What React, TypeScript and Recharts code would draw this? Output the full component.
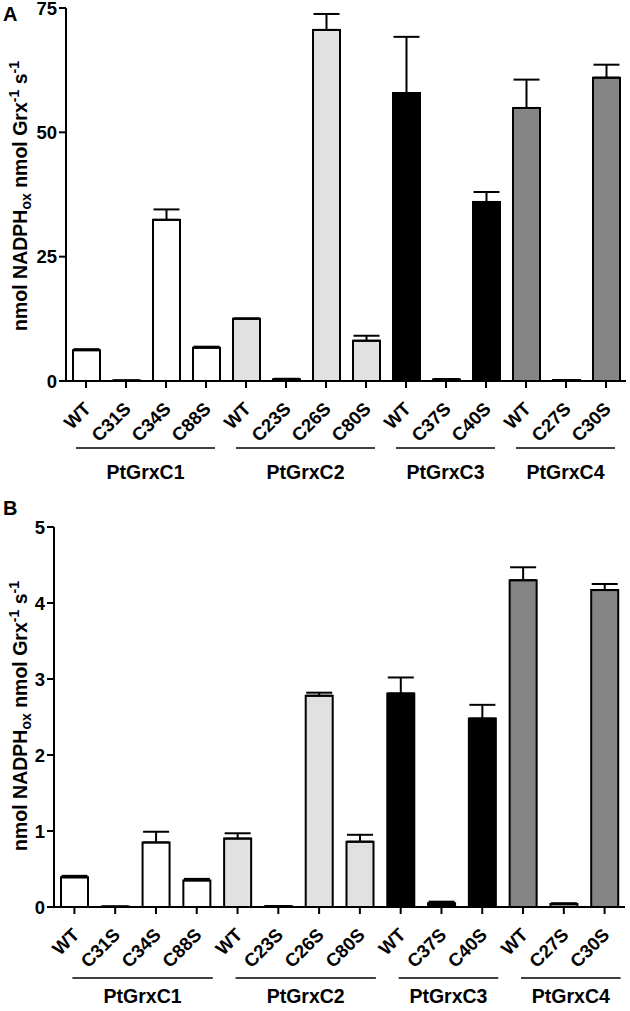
import { Bar, BarChart, Cell, ErrorBar, XAxis, YAxis } from "recharts";

const FONT = "'Liberation Sans', Arial, sans-serif";

const categories = ["WT", "C31S", "C34S", "C88S", "WT", "C23S", "C26S", "C80S", "WT", "C37S", "C40S", "WT", "C27S", "C30S"];
const groupNames = ["PtGrxC1", "PtGrxC2", "PtGrxC3", "PtGrxC4"];
const groupSizes = [4, 4, 3, 3];
const groupFills = ["#ffffff", "#e1e1e1", "#000000", "#858585"];

// panel A: activity in nmol NADPH ox per nmol Grx per s
const rateA = [6.2, 0.1, 32.4, 6.7, 12.5, 0.35, 70.6, 8.1, 57.9, 0.3, 36.0, 54.9, 0.2, 61.0];
const errA = [0.2, 0, 2.1, 0.2, 0.1, 0.1, 3.2, 1.0, 11.3, 0.1, 2.0, 5.7, 0, 2.6];
const ticksA = [0, 25, 50, 75];

// panel B
const rateB = [0.39, 0.005, 0.85, 0.35, 0.9, 0.01, 2.78, 0.86, 2.81, 0.05, 2.48, 4.3, 0.04, 4.17];
const errB = [0.02, 0, 0.14, 0.02, 0.07, 0, 0.04, 0.09, 0.21, 0.02, 0.18, 0.17, 0.01, 0.08];
const ticksB = [0, 1, 2, 3, 4, 5];

const groupIndex: number[] = [];
groupSizes.forEach((n, g) => {
  for (let i = 0; i < n; i++) groupIndex.push(g);
});
const groupStart = groupSizes.map((_, g) => groupSizes.slice(0, g).reduce((a, b) => a + b, 0));

function buildRows(values: number[], errs: number[]) {
  return categories.map((name, i) => ({
    id: `${groupNames[groupIndex[i]]}-${name}`,
    name,
    group: groupIndex[i],
    value: values[i],
    err: errs[i]
  }));
}

type PanelProps = {
  letter: string;
  letterY: number;
  titleY: number;
  superGap: string;
  height: number;
  top: number;
  right: number;
  xHeight: number;
  yWidth: number;
  domain: [number, number];
  ticks: number[];
  values: number[];
  errs: number[];
  lineDy: number;
  labelDy: number;
  lineStart: number;
  lineEnd: number;
};

function Panel(p: PanelProps) {
  const data = buildRows(p.values, p.errs);
  const width = 630;
  const step = (width - p.right - p.yWidth) / categories.length;

  const renderTick = (props: any) => {
    const { x, y, index } = props;
    const g = groupIndex[index];
    const first = groupStart[g] === index;
    const lx = x + 6;
    const ly = y + 20;
    const x1 = x + p.lineStart;
    const x2 = x + (groupSizes[g] - 1) * step + p.lineEnd;
    return (
      <g>
        <text
          x={lx}
          y={ly}
          textAnchor="end"
          transform={`rotate(-45, ${lx}, ${ly})`}
          fontFamily={FONT}
          fontWeight="bold"
          fontSize={18.5}
          fill="#000"
        >
          {categories[index]}
        </text>
        {first && (
          <g>
            <line x1={x1} x2={x2} y1={y + p.lineDy} y2={y + p.lineDy} stroke="#000" strokeWidth={1.5} />
            <text
              x={(x1 + x2) / 2}
              y={y + p.labelDy}
              textAnchor="middle"
              fontFamily={FONT}
              fontWeight="bold"
              fontSize={19.5}
              fill="#000"
            >
              {groupNames[g]}
            </text>
          </g>
        )}
      </g>
    );
  };

  const renderYTick = (props: any) => {
    const { x, y, payload } = props;
    return (
      <text
        x={x}
        y={y}
        dy={6.5}
        textAnchor="end"
        fontFamily={FONT}
        fontWeight="bold"
        fontSize={18.5}
        fill="#000"
      >
        {payload.value}
      </text>
    );
  };

  const renderTitle = () => (
    <g>
      <text x={3} y={p.letterY} fontFamily={FONT} fontWeight="bold" fontSize={20} fill="#000">
        {p.letter}
      </text>
      <text
        x={27}
        y={p.titleY}
        textAnchor="middle"
        transform={`rotate(-90, 27, ${p.titleY})`}
        fontFamily={FONT}
        fontWeight="bold"
        fontSize={19.5}
        fill="#000"
      >
        nmol NADPH
        <tspan dy={4} fontSize={14}>ox</tspan>
        <tspan dy={-4}> nmol Grx</tspan>
        <tspan dy={-8} fontSize={14}>-1</tspan>
        <tspan dy={8}>{p.superGap}s</tspan>
        <tspan dy={-8} fontSize={14}>-1</tspan>
      </text>
    </g>
  );

  return (
    <BarChart
      width={width}
      height={p.height}
      data={data}
      margin={{ top: p.top, right: p.right, left: 0, bottom: 0 }}
      barSize={27}
    >
      <XAxis
        dataKey="id"
        interval={0}
        tick={renderTick}
        tickSize={7}
        tickMargin={2}
        height={p.xHeight}
        axisLine={{ stroke: "#000", strokeWidth: 2 }}
        tickLine={{ stroke: "#000", strokeWidth: 2 }}
      />
      <YAxis
        domain={p.domain}
        ticks={p.ticks}
        width={p.yWidth}
        tickSize={7}
        tickMargin={2}
        interval={0}
        axisLine={{ stroke: "#000", strokeWidth: 2 }}
        tickLine={{ stroke: "#000", strokeWidth: 2 }}
        tick={renderYTick}
        label={{ content: renderTitle }}
      />
      <Bar dataKey="value" stroke="#000" strokeWidth={2} isAnimationActive={false}>
        {data.map((d) => (
          <Cell key={d.id} fill={groupFills[d.group]} />
        ))}
        <ErrorBar
          dataKey={(d: any) => [0, d.err]}
          direction="y"
          width={13}
          stroke="#000"
          strokeWidth={2}
          isAnimationActive={false}
        />
      </Bar>
    </BarChart>
  );
}

export default function App() {
  return (
    <div style={{ position: "absolute", left: 0, top: 0, width: 630, height: 1011, background: "#fff" }}>
      <div style={{ position: "absolute", left: 0, top: 0 }}>
        <Panel
          letter="A"
          letterY={21}
          titleY={196}
          superGap="  "
          height={490}
          top={8}
          right={4}
          xHeight={109}
          yWidth={66}
          domain={[0, 75]}
          ticks={ticksA}
          values={rateA}
          errs={errA}
          lineDy={58}
          labelDy={89}
          lineStart={-10}
          lineEnd={9}
        />
      </div>
      <div style={{ position: "absolute", left: 0, top: 490 }}>
        <Panel
          letter="B"
          letterY={25}
          titleY={226}
          superGap=" "
          height={521}
          top={37}
          right={5}
          xHeight={104}
          yWidth={54}
          domain={[0, 5]}
          ticks={ticksB}
          values={rateB}
          errs={errB}
          lineDy={62}
          labelDy={87}
          lineStart={-2}
          lineEnd={16}
        />
      </div>
    </div>
  );
}
